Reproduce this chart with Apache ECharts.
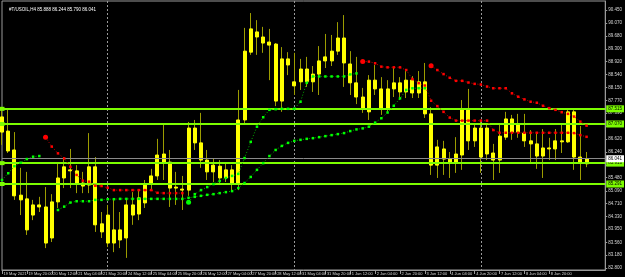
<!DOCTYPE html>
<html><head><meta charset="utf-8">
<script src="https://cdn.jsdelivr.net/npm/echarts@6/dist/echarts.min.js"></script>
<style>html,body{margin:0;padding:0;background:#000;}#c{width:625px;height:277px;}</style>
</head><body><div id="c"></div>
<script>
const gap = n => Array(n).fill(null);

const header = "#T/USOIL,H4 85.888 86.244 85.790 86.041";

const opens = [87.28,86.86,86.30,84.96,84.85,84.37,84.67,84.61,83.69,84.76,
85.47,85.68,85.68,85.32,85.26,85.80,84.11,84.37,83.54,83.93,
83.69,84.67,84.40,84.73,85.32,85.53,86.18,85.94,85.17,85.14,
85.11,86.95,86.51,86.00,85.65,85.82,85.47,85.71,85.32,87.19,
89.20,89.80,89.65,89.50,89.44,87.75,89.00,88.32,88.32,88.70,
88.32,88.55,88.94,88.94,89.23,89.62,88.85,88.29,87.87,87.43,
88.37,88.11,87.54,88.11,88.29,88.02,88.37,87.99,88.32,87.37,
85.85,86.33,86.03,85.91,86.15,87.49,86.57,86.95,86.18,86.21,
86.00,86.68,87.22,86.83,86.80,86.57,86.48,86.12,86.36,86.33,
86.54,86.54,87.43,86.09,85.89];
const closes = [86.83,86.27,84.94,84.82,83.93,84.67,84.61,83.54,84.76,85.47,
85.80,85.71,85.32,85.23,85.80,84.08,83.87,83.54,83.93,83.63,
84.67,84.37,84.88,85.26,85.53,86.15,85.94,85.17,85.20,85.11,
86.95,86.51,86.00,85.65,85.85,85.47,85.71,85.32,87.19,89.23,
89.89,89.65,89.47,89.41,87.75,89.00,88.82,88.20,88.70,88.32,
88.55,88.94,89.06,89.23,89.62,88.88,88.29,87.87,87.54,88.37,
88.11,87.54,88.11,88.29,88.02,88.37,87.99,88.32,87.37,85.85,
86.39,86.03,85.91,86.18,87.49,86.57,86.95,86.09,86.95,86.00,
86.71,87.22,86.83,87.04,86.57,86.48,86.12,86.36,86.33,86.57,
86.57,87.43,86.09,85.91,86.04];
const lows = [86.45,86.21,84.82,84.37,83.78,84.22,84.46,83.39,83.57,84.58,
85.17,85.17,85.02,85.02,85.02,83.87,83.69,83.42,83.27,83.39,
83.10,84.08,84.22,84.58,85.11,85.41,85.41,84.61,84.67,84.52,
84.94,86.30,85.77,85.41,85.35,85.26,85.35,85.11,85.11,87.07,
89.12,89.12,89.18,88.37,87.60,87.43,88.52,87.93,88.08,88.17,
88.02,87.93,88.73,88.79,89.12,88.17,87.93,87.66,87.40,87.19,
87.93,87.34,87.40,87.87,87.78,87.84,87.84,87.84,87.25,85.56,
85.47,85.56,85.47,85.62,85.71,86.30,86.39,85.62,86.00,85.41,
85.62,86.60,86.60,86.66,86.39,85.94,85.74,85.47,86.00,86.00,
86.21,86.51,85.71,85.41,85.79];
const highs = [87.54,87.49,86.83,85.77,85.65,84.82,84.91,85.20,84.99,85.94,
86.09,86.33,85.85,85.65,86.80,86.09,84.46,84.67,84.82,84.46,
84.82,85.05,85.11,85.41,85.74,86.63,87.04,86.30,85.65,85.53,
87.13,87.19,87.40,86.30,86.06,86.00,85.91,85.85,88.08,89.92,
90.36,90.15,89.95,89.89,89.47,89.35,89.20,89.18,89.00,89.06,
88.79,89.38,89.74,89.71,90.09,90.30,89.23,89.06,88.14,88.52,
88.82,88.46,88.37,88.73,88.46,88.67,88.49,88.64,88.88,87.57,
86.60,86.57,86.24,86.68,87.78,88.11,87.10,87.19,87.04,86.48,
87.04,87.43,87.34,87.37,87.37,86.89,86.80,86.92,86.66,86.92,
87.04,87.49,87.49,87.01,86.24];

// two stop-and-reverse style dotted indicators (green below / red above phases)
const sarAGreen = [85.41,85.61,85.82,85.92,86.03,86.10,86.12, ...gap(23),
  84.75,84.99,85.11,85.20,85.29,85.38,85.47,85.53,85.59,86.06,86.54,86.99,87.27,87.49,87.51,87.52,87.52,87.52,87.73,88.29,
  88.48,88.48,88.48,88.48,88.48,88.48,88.54,88.57, ...gap(37)];
const sarARed = [...gap(7),
  86.68,86.40,86.20,86.05,85.80,85.56,85.39,85.36,85.24,85.23,85.18,85.11,85.11,85.11,85.11,85.11,85.11,85.11,85.03,85.02,85.02,85.02,85.02,
  ...gap(28),
  88.92,88.92,88.87,88.77,88.75,88.75,88.75,88.67,88.40,88.28,88.21,87.76,87.60,87.43,87.26,
  87.17,87.17,87.17,87.17,87.17,87.17,86.89,
  86.81,86.81,86.81,86.81,86.81,86.81,86.81,86.81,86.81,86.81,86.81,86.81,86.80,86.74,86.69];
const sarBGreen = [...gap(9),
  84.52,84.62,84.74,84.78,84.78,84.78,84.82,84.82,84.84,84.84,84.85,84.85,84.85,84.85,84.85,84.85,84.85,84.85,84.85,84.85,84.85,
  84.88,84.91,84.94,84.97,84.99,85.02,85.05,85.08,85.17,85.32,85.50,85.71,85.91,86.12,86.30,86.42,86.51,86.57,86.60,86.63,
  86.65,86.68,86.71,86.74,86.77,86.80,86.86,86.91,86.94,86.99,87.11,87.24,87.41,87.61,87.83,88.08,88.13,88.13,88.13,
  ...gap(26)];
const sarBRed = [...gap(69),
  88.80,88.67,88.55,88.44,88.35,88.35,88.30,88.26,88.24,88.18,88.13,88.13,88.13,87.98,87.88,87.80,87.73,87.70,87.61,87.54,
  87.49,87.42,87.37,87.29,87.14,87.02];

const levels = [87.515, 87.070, 85.913, 85.291];
const lastPrice = 86.041;
const yTicks = [82.80,83.18,83.56,83.95,84.33,84.71,85.09,85.48,85.86,86.24,86.62,87.01,87.39,87.77,88.15,88.54,88.92,89.30,89.68,90.07,90.45];
const xTickLabels = ["19 May 2021","19 May 20:00","20 May 12:00","21 May 04:00","21 May 20:00","24 May 12:00","25 May 04:00","25 May 20:00",
  "26 May 12:00","27 May 04:00","27 May 20:00","28 May 12:00","31 May 04:00","31 May 20:00","1 Jun 12:00","2 Jun 04:00",
  "2 Jun 20:00","3 Jun 12:00","4 Jun 04:00","4 Jun 20:00","7 Jun 12:00","8 Jun 04:00","8 Jun 20:00","9 Jun 12:00"];
const weekStarts = [17, 47, 77];
const slots = 98;

const cats = Array.from({length: slots}, (_, i) => String(i));
const wickData = opens.map((o, i) => [o, closes[i], lows[i], highs[i]]);
const bodyData = opens.map((o, i) => [o, closes[i], Math.min(o, closes[i]), Math.max(o, closes[i])]);
const FONT = 'Liberation Sans';
const isTick = i => i % 4 === 0 && i / 4 < xTickLabels.length;

function sarSeries(data, other, color, lineColor) {
  const isStart = i => i > 0 && data[i] != null && data[i-1] == null && other[i-1] != null;
  return {
    type: 'line', data: data, connectNulls: false, z: 6, silent: true,
    symbol: (v, p) => isStart(p.dataIndex) ? 'circle' : 'rect',
    symbolSize: (v, p) => isStart(p.dataIndex) ? 5 : 2.5,
    showAllSymbol: true,
    itemStyle: {color: color},
    lineStyle: {color: lineColor, width: 1, type: [1, 2]}
  };
}

const chart = echarts.init(document.getElementById('c'), null, {renderer: 'canvas'});
chart.setOption({
  animation: false,
  backgroundColor: '#000',
  title: {text: header, left: 4, top: 2, textStyle: {color: '#fff', fontSize: 4.5, fontWeight: 'normal', fontFamily: FONT}},
  grid: {left: 2, right: 16.75, top: 1, bottom: 7, show: true, borderColor: '#9a9a9a', borderWidth: 1, backgroundColor: '#000'},
  xAxis: {
    type: 'category', data: cats, boundaryGap: false,
    axisLine: {lineStyle: {color: '#9a9a9a'}},
    axisTick: {interval: isTick, length: 4, lineStyle: {color: '#9a9a9a'}},
    axisLabel: {interval: isTick, showMinLabel: true, showMaxLabel: false, hideOverlap: false,
      formatter: (v) => isTick(Number(v)) ? xTickLabels[Number(v) / 4] : '',
      align: 'left', color: '#d8d8d8', fontSize: 4, fontFamily: FONT, margin: 1.5, padding: [0, 0, 0, 1.5]},
    splitLine: {show: true, interval: i => weekStarts.includes(i), lineStyle: {color: '#9a9a9a', type: [2, 2], width: 1}}
  },
  yAxis: {
    type: 'value', position: 'right', min: 82.7407, max: 90.7171, scale: true,
    axisLine: {show: true, lineStyle: {color: '#9a9a9a'}},
    axisTick: {show: true, customValues: yTicks, length: 2, lineStyle: {color: '#9a9a9a'}},
    axisLabel: {customValues: yTicks, formatter: v => v.toFixed(2) + '0', color: '#d8d8d8', fontSize: 4.5, fontFamily: FONT, margin: 3},
    splitLine: {show: false}
  },
  series: [
    {type: 'candlestick', data: wickData, barWidth: 1, clip: false, z: 2, silent: true,
     itemStyle: {color: '#9c9c00', color0: '#9c9c00', borderColor: '#9c9c00', borderColor0: '#9c9c00', borderWidth: 1}},
    {type: 'candlestick', data: bodyData, barWidth: 3.5, clip: false, z: 3, silent: true,
     itemStyle: {color: '#ffff00', color0: '#ffff00', borderColor: '#ffff00', borderColor0: '#ffff00', borderWidth: 1},
     markLine: {
       silent: true, symbol: ['rect', 'none'], symbolSize: [4, 5], animation: false,
       data: [
         ...levels.map(v => ({yAxis: v, lineStyle: {color: '#7CFC00', width: 2, type: 'solid'},
            itemStyle: {color: '#7CFC00'},
            label: {show: true, position: 'end', distance: 1, formatter: v.toFixed(3), backgroundColor: '#7CFC00', color: '#000',
              fontSize: 4.5, fontFamily: FONT, padding: [1, 2]}})),
         {yAxis: lastPrice, symbol: 'none', lineStyle: {color: '#8a8a8a', width: 1, type: 'solid'},
          label: {show: true, position: 'end', distance: 1, formatter: lastPrice.toFixed(3), backgroundColor: '#ffffff', color: '#000',
            fontSize: 4.5, fontFamily: FONT, padding: [1, 2]}}
       ]
     }},
    sarSeries(sarAGreen, sarARed, '#00ff00', '#00b000'),
    sarSeries(sarARed, sarAGreen, '#ff0000', '#c00000'),
    sarSeries(sarBGreen, sarBRed, '#00ff00', '#00b000'),
    sarSeries(sarBRed, sarBGreen, '#ff0000', '#c00000')
  ]
});
</script>
</body></html>
